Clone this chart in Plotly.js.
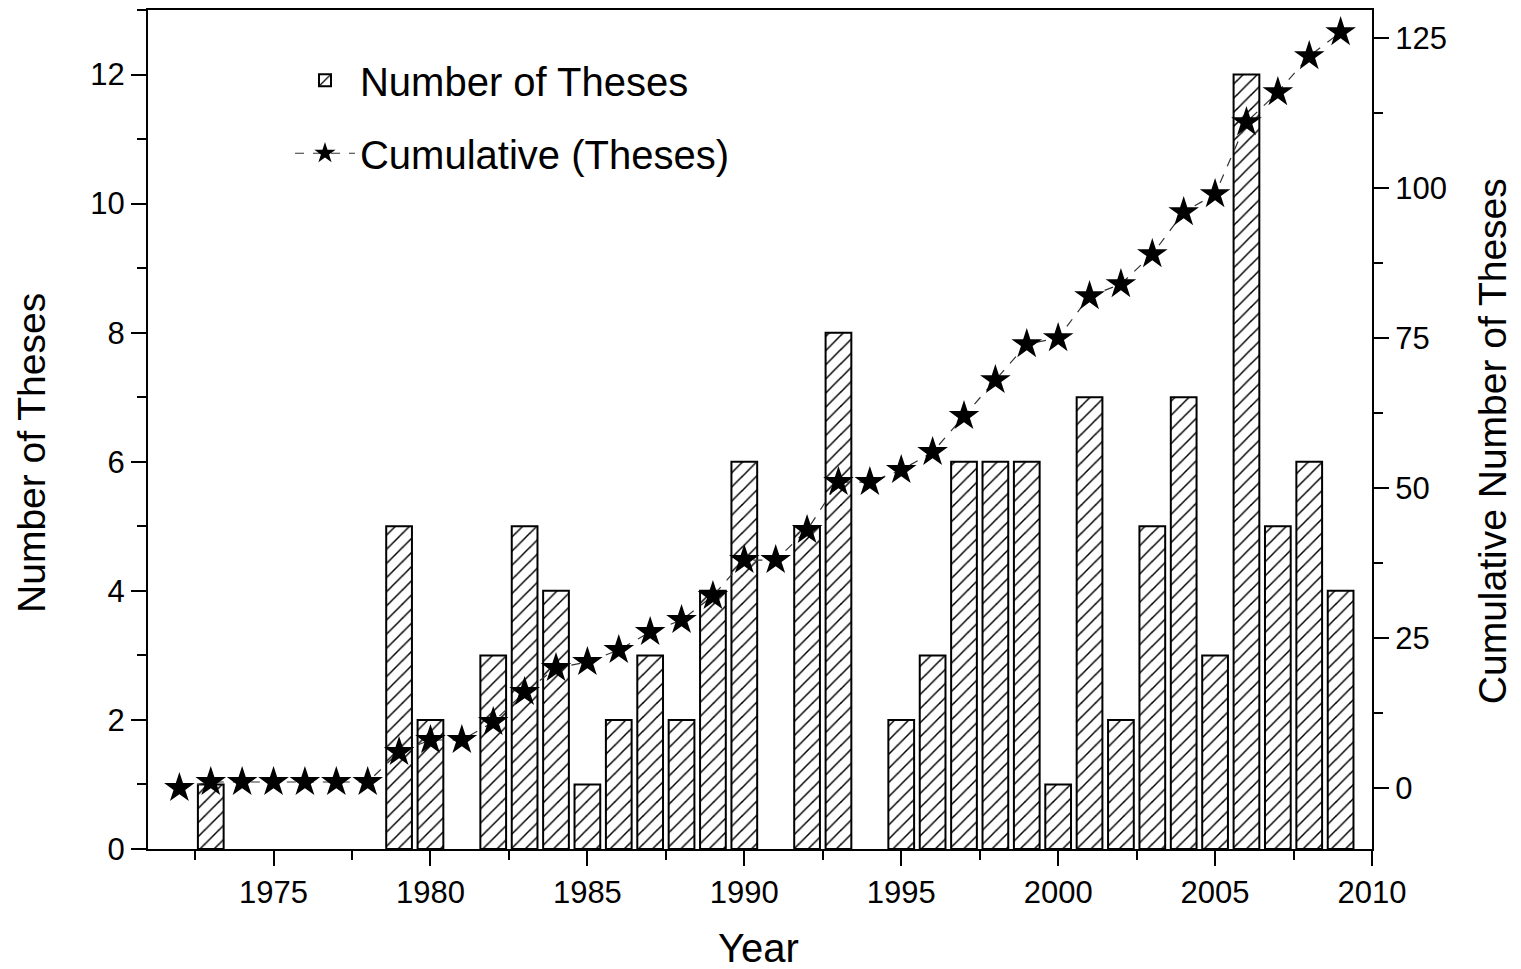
<!DOCTYPE html>
<html>
<head>
<meta charset="utf-8">
<script src="https://cdn.plot.ly/plotly-3.0.1.min.js"></script>
<style>html,body{margin:0;padding:0;background:#fff;}#chart{width:1521px;height:969px;}</style>
</head>
<body>
<div id="chart"></div>
<script>
const barYears = [1973,1979,1980,1982,1983,1984,1985,1986,1987,1988,1989,1990,1992,1993,1995,1996,1997,1998,1999,2000,2001,2002,2003,2004,2005,2006,2007,2008,2009];
const barCounts = [1,5,2,3,5,4,1,2,3,2,4,6,5,8,2,3,6,6,6,1,7,2,5,7,3,12,5,6,4];
const cumYears = [1972,1973,1974,1975,1976,1977,1978,1979,1980,1981,1982,1983,1984,1985,1986,1987,1988,1989,1990,1991,1992,1993,1994,1995,1996,1997,1998,1999,2000,2001,2002,2003,2004,2005,2006,2007,2008,2009];
const cumValues = [0,1,1,1,1,1,1,6,8,8,11,16,20,21,23,26,28,32,38,38,43,51,51,53,56,62,68,74,75,82,84,89,96,99,111,116,122,126];
const xTickVals = [1975,1980,1985,1990,1995,2000,2005,2010];
const yLeftTicks = [0,2,4,6,8,10,12];
const yRightTicks = [0,25,50,75,100,125];

const FONT = 'Liberation Sans, Arial, sans-serif';

const traces = [
  {
    type: 'bar', name: 'Number of Theses', x: barYears, y: barCounts,
    width: 0.82, legendgroup: 'a',
    marker: {color: 'white', line: {color: 'black', width: 2},
      pattern: {shape: '/', fgcolor: 'black', bgcolor: 'white', size: 10, solidity: 0.15}},
    xaxis: 'x', yaxis: 'y'
  },
  {
    type: 'scatter', mode: 'lines+markers', name: 'Cumulative (Theses)', x: cumYears, y: cumValues,
    legendgroup: 'b',
    line: {color: '#333', width: 1.2, dash: 'dash'},
    marker: {symbol: 'star', size: 23, color: 'black'},
    xaxis: 'x', yaxis: 'y2'
  }
];

const tickStyle = {ticks: 'outside', ticklen: 15, tickwidth: 2, tickcolor: 'black'};

const layout = {
  width: 1521, height: 969,
  margin: {l: 148, r: 149, t: 10, b: 120},
  paper_bgcolor: 'white', plot_bgcolor: 'white',
  font: {family: FONT, color: 'black', size: 31},
  showlegend: true,
  legend: {x: 0.116, y: 0.955, xanchor: 'left', yanchor: 'top', bgcolor: 'rgba(0,0,0,0)',
    font: {size: 40, family: FONT}, tracegroupgap: 18, itemwidth: 60},
  bargap: 0,
  xaxis: Object.assign({
    range: [1971, 2010], tickvals: xTickVals, ticktext: xTickVals.map(String),
    showgrid: false, zeroline: false,
    showline: true, linecolor: 'black', linewidth: 2, mirror: true,
    minor: {dtick: 2.5, tick0: 1972.5, ticks: 'outside', ticklen: 9, tickwidth: 2, tickcolor: 'black', showgrid: false},
    tickfont: {size: 31, family: FONT}
  }, tickStyle),
  yaxis: Object.assign({
    range: [0, 13], tickvals: yLeftTicks,
    showgrid: false, zeroline: false,
    showline: true, linecolor: 'black', linewidth: 2,
    minor: {dtick: 1, tick0: 0, ticks: 'outside', ticklen: 9, tickwidth: 2, tickcolor: 'black', showgrid: false},
    tickfont: {size: 31, family: FONT}
  }, tickStyle),
  yaxis2: Object.assign({
    overlaying: 'y', side: 'right',
    range: [-10.17, 129.7], tickvals: yRightTicks,
    showgrid: false, zeroline: false,
    showline: true, linecolor: 'black', linewidth: 2,
    minor: {dtick: 12.5, tick0: 0, ticks: 'outside', ticklen: 9, tickwidth: 2, tickcolor: 'black', showgrid: false},
    tickfont: {size: 31, family: FONT}
  }, tickStyle),
  annotations: [
    {text: 'Year', xref: 'paper', yref: 'paper', x: 0.499, y: -0.118, xanchor: 'center', yanchor: 'middle',
      showarrow: false, font: {size: 40, family: FONT}},
    {text: 'Number of Theses', xref: 'paper', yref: 'paper', x: -0.0948, y: 0.472, xanchor: 'center', yanchor: 'middle',
      textangle: -90, showarrow: false, font: {size: 39, family: FONT}},
    {text: 'Cumulative Number of Theses', xref: 'paper', yref: 'paper', x: 1.098, y: 0.486, xanchor: 'center', yanchor: 'middle',
      textangle: -90, showarrow: false, font: {size: 39, family: FONT}}
  ]
};

Plotly.newPlot('chart', traces, layout, {staticPlot: true, displayModeBar: false});
</script>
</body>
</html>
